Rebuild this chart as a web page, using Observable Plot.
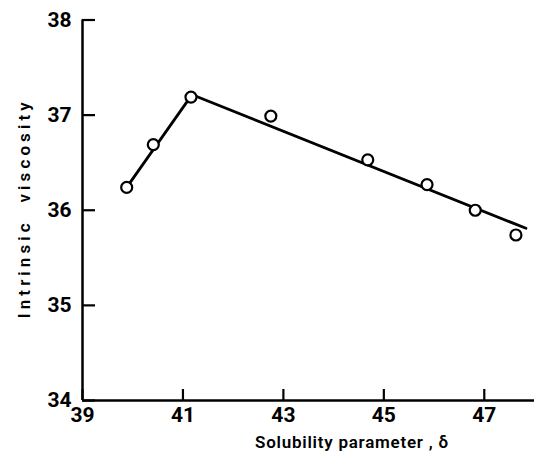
<!DOCTYPE html>
<html>
<head>
<meta charset="utf-8">
<script src="https://cdn.jsdelivr.net/npm/d3@7"></script>
<script src="https://cdn.jsdelivr.net/npm/@observablehq/plot@0.6"></script>
<style>
  html, body { margin: 0; padding: 0; background: #fff; }
  #chart svg { display: block; }
</style>
</head>
<body>
<div id="chart"></div>
<script>
const solubility = [39.88, 40.41, 41.16, 42.75, 44.68, 45.86, 46.82, 47.63];
const viscosity  = [36.24, 36.69, 37.19, 36.99, 36.53, 36.27, 36.00, 35.74];
const riseX = [39.88, 41.16];
const riseY = [36.24, 37.20];
const fallX = [41.16, 47.83];
const fallY = [37.22, 35.81];
const xTicks = [39, 41, 43, 45, 47];
const yTicks = [34, 35, 36, 37, 38];
const xTitle = "Solubility parameter , δ";
const yTitle = "Intrinsic  viscosity";

const points = solubility.map((x, i) => ({x, y: viscosity[i]}));
const rise = riseX.map((x, i) => ({x, y: riseY[i]}));
const fall = fallX.map((x, i) => ({x, y: fallY[i]}));

const font = "Roboto, 'DejaVu Sans', sans-serif";
const W = 534, H = 458, mL = 82, mR = 0, mT = 19.5, mB = 58;

const chart = Plot.plot({
  width: W,
  height: H,
  marginLeft: mL,
  marginRight: mR,
  marginTop: mT,
  marginBottom: mB,
  style: {fontFamily: font, background: "#fff", color: "#000"},
  x: {domain: [39, 48]},
  y: {domain: [34, 38]},
  marks: [
    Plot.axisY({ticks: yTicks, tickSize: 0, tickPadding: 11, fontSize: 21, fontWeight: 700, label: null, tickFormat: d => String(d)}),
    Plot.axisX({ticks: xTicks, tickSize: 0, tickPadding: 7, fontSize: 21, fontWeight: 700, label: null, tickFormat: d => String(d)}),
    Plot.axisY({ticks: yTicks, tickSize: 13, dx: 13, strokeWidth: 2.2, stroke: "#000", label: null, tickFormat: () => ""}),
    Plot.axisX({ticks: xTicks, tickSize: 11, dy: -11, strokeWidth: 2.2, stroke: "#000", label: null, tickFormat: () => ""}),
    Plot.ruleX([39], {strokeWidth: 2.5}),
    Plot.ruleY([34], {strokeWidth: 2.5}),
    Plot.line(rise, {x: "x", y: "y", strokeWidth: 2.8}),
    Plot.line(fall, {x: "x", y: "y", strokeWidth: 2.8}),
    Plot.dot(points, {x: "x", y: "y", r: 5.5, stroke: "#000", strokeWidth: 2.2, fill: "#fff"}),
    Plot.text([xTitle], {frameAnchor: "bottom", textAnchor: "middle", dy: 47, dx: 43, text: d => d, fontSize: 17, fontWeight: 600}),
    Plot.text([yTitle], {frameAnchor: "left", textAnchor: "middle", dx: -58, dy: 0, rotate: -90, text: d => d, fontSize: 17, fontWeight: 600})
  ]
});
chart.querySelectorAll("text").forEach(t => {
  if (t.textContent === xTitle) { t.setAttribute("textLength", 193); t.setAttribute("lengthAdjust", "spacing"); }
  if (t.textContent === yTitle) { t.setAttribute("textLength", 216); t.setAttribute("lengthAdjust", "spacing"); }
});
document.getElementById("chart").appendChild(chart);
</script>
</body>
</html>
